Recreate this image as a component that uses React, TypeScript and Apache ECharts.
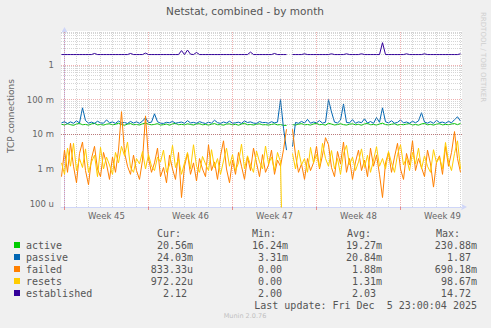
import React, { useEffect, useRef } from 'react';
import * as echarts from 'echarts';

// ---- axis / tick texts ----
const TITLE = 'Netstat, combined - by month';
const Y_AXIS_NAME = 'TCP connections';
const WEEK_LABELS = ['Week 45', 'Week 46', 'Week 47', 'Week 48', 'Week 49'];
const WEEK_LABEL_HOURS = [84, 252, 420, 588, 756]; // hours after Mon 3 Nov 00:00
const WEEK_START_HOURS = [0, 168, 336, 504, 672];
const Y_TICK_EXPONENTS = [-4, -3, -2, -1, 0];
const Y_TICK_TEXTS = ['100 u', '1 m', '10 m', '100 m', '1'];

// ---- time sampling of the series (hours after Mon 3 Nov 00:00) ----
const X_MIN_HOUR = -7;
const X_MAX_HOUR = 795;
const FIRST_HOUR = -6;
const STEP_HOURS = 6;
const Y_MIN = 8.0e-5;
const Y_MAX = 9.56;

// ---- series values (milli-units unless noted; null = no data) ----
const ACTIVE_MILLI = [
  19.5, 18.6, 20.2, 19.0, 18.2, 19.8, 20.5, 18.9, 19.3, 18.4,
  19.9, 20.8, 18.7, 19.2, 18.5, 19.6, 20.1, 18.8, 19.4, 21.0,
  19.1, 18.3, 19.7, 20.4, 18.9, 19.2, 18.6, 20.0, 21.2, 19.5,
  18.8, 19.3, 20.3, 18.5, 19.0, 19.7, 18.4, 19.9, 20.6, 18.9,
  19.4, 18.7, 20.1, 19.2, 18.6, 19.8, 20.2, 18.8, 19.3, 18.5,
  19.6, 20.4, 18.9, 19.1, 18.4, 19.7, 20.0, 18.7, 19.5, 18.3,
  19.8, 20.7, 18.9, 19.2, 18.6, 19.4, 20.1, 18.8, 19.0, 18.5,
  19.3, 20.0, 18.7, 19.1, 18.2, 18.0, null, 19.0, 18.6, 19.5,
  20.3, 18.8, 19.2, 18.5, 19.9, 20.6, 18.9, 19.3, 18.4, 20.8,
  19.7, 18.6, 19.1, 20.2, 19.0, 18.5, 19.6, 20.0, 18.8, 19.4,
  18.3, 19.9, 20.5, 18.9, 19.2, 18.6, 19.8, 21.0, 19.1, 18.7,
  19.5, 20.1, 18.5, 19.3, 18.9, 19.7, 20.3, 18.6, 19.2, 18.4,
  19.9, 20.6, 18.8, 19.4, 18.5, 19.6, 20.2, 18.7, 19.3, 18.9,
  19.8, 20.4, 19.0, 20.6,
];
const PASSIVE_MILLI = [
  21.5, 23.0, 20.5, 22.8, 20.8, 24.5, 21.2, 58.0, 25.0, 21.0,
  22.5, 20.6, 23.8, 21.4, 20.9, 26.0, 21.6, 22.7, 20.7, 24.2,
  21.3, 22.0, 20.5, 23.5, 21.1, 22.9, 20.8, 24.0, 30.0, 21.7,
  22.4, 39.0, 23.0, 21.0, 20.6, 22.2, 21.5, 23.6, 20.9, 21.8,
  22.6, 20.7, 24.8, 21.3, 22.1, 20.8, 23.2, 21.6, 20.5, 22.3,
  21.0, 25.5, 21.8, 20.6, 22.7, 21.2, 23.9, 20.9, 21.5, 22.4,
  20.7, 24.3, 21.9, 22.8, 21.1, 20.6, 23.3, 21.7, 22.0, 20.8,
  23.1, 21.4, 22.5, 100.0, 15.0, 3.5, null, 4.4, 22.0, 20.8,
  23.5, 21.2, 27.0, 20.9, 22.6, 21.5, 24.8, 21.0, 22.3, 100.0,
  44.0, 22.5, 21.2, 25.8, 75.0, 22.0, 21.4, 26.5, 20.8, 22.9,
  21.6, 28.0, 21.1, 23.4, 20.7, 30.5, 22.2, 58.0, 23.0, 21.4,
  24.6, 20.9, 22.1, 26.0, 21.3, 22.7, 20.8, 23.8, 21.5, 24.4,
  42.0, 22.6, 21.0, 23.2, 20.7, 25.4, 21.8, 22.5, 20.9, 23.6,
  21.4, 26.5, 32.0, 24.0,
];
const FAILED_MILLI = [
  0.6, 3.5, 0.8, 5.5, 1.2, 0.4, 2.8, 6.0, 0.9, 0.35,
  2.0, 4.5, 1.0, 0.6, 3.0, 1.4, 0.5, 2.2, 0.8, 3.5,
  45, 3.0, 1.2, 0.7, 2.5, 0.9, 0.5, 1.8, 34, 2.0,
  0.8, 1.5, 4.0, 0.6, 1.1, 0.4, 2.5, 1.0, 0.5, 3.0,
  0.15, 1.2, 2.8, 0.7, 1.5, 0.45, 2.0, 1.0, 0.6, 5.0,
  0.9, 1.6, 0.5, 2.4, 6.5, 1.0, 0.4, 1.8, 0.7, 3.0,
  1.2, 0.5, 2.2, 0.9, 4.0, 1.5, 0.6, 2.6, 0.8, 1.3,
  3.5, 0.7, 1.8, 1.2, 3.6, 14, null, 14, 2.5, 0.8,
  1.4, 0.5, 2.0, 0.9, 1.5, 4.5, 1.0, 2.5, 8.0, 5.0,
  1.1, 0.6, 3.2, 1.4, 6.0, 0.8, 2.0, 0.5, 1.6, 3.5,
  0.9, 1.8, 0.6, 4.0, 1.2, 2.5, 0.7, 0.15, 1.5, 3.0,
  0.8, 2.2, 5.5, 1.0, 0.5, 2.8, 1.3, 6.5, 0.9, 2.0,
  1.1, 0.6, 3.5, 1.4, 0.3, 1.6, 2.4, 0.7, 4.5, 1.2,
  3.0, 12, 2.0, 0.8,
];
const RESETS_MILLI = [
  1.5, 0.7, 4.0, 1.2, 5.5, 0.9, 2.0, 1.1, 3.8, 0.8,
  1.6, 2.5, 0.6, 4.2, 1.0, 2.2, 1.3, 0.7, 3.0, 1.5,
  4.5, 2.4, 6.0, 1.1, 0.8, 2.0, 1.4, 3.2, 1.0, 2.6,
  1.2, 0.9, 2.2, 1.6, 3.5, 0.8, 1.3, 4.8, 1.1, 2.0,
  0.7, 1.5, 3.0, 1.0, 5.0, 1.2, 0.8, 2.3, 1.4, 0.9,
  3.6, 1.1, 2.0, 0.7, 1.7, 4.0, 1.2, 2.6, 0.9, 1.5,
  5.2, 1.0, 2.4, 1.3, 0.8, 3.3, 1.6, 1.0, 4.6, 1.4,
  2.2, 0.9, 3.0, 1.6, 0, null, null, 2.8, 1.0, 3.5,
  1.3, 2.0, 0.8, 4.2, 1.5, 2.6, 1.1, 5.5, 2.0, 1.2,
  3.4, 1.0, 2.0, 0.7, 2.8, 4.8, 1.3, 2.2, 0.9, 1.6,
  3.8, 1.1, 2.5, 0.8, 1.8, 4.4, 1.2, 2.0, 1.0, 3.2,
  1.5, 0.8, 2.6, 5.0, 1.3, 2.1, 0.9, 3.0, 1.4, 4.0,
  1.0, 2.4, 1.2, 0.8, 3.6, 1.5, 2.2, 1.0, 5.8, 1.6,
  0.9, 2.8, 6.5, 1.0,
];
// established connections (plain units)
const ESTABLISHED = [
  2.0, 2.0, 2.0, 2.0, 2.0, 2.0, 2.0, 2.0, 2.0, 2.0,
  2.0, 2.15, 2.0, 2.0, 2.0, 2.0, 2.0, 2.0, 2.0, 2.0,
  2.0, 2.0, 2.0, 2.15, 2.0, 2.0, 2.0, 2.0, 2.2, 2.0,
  2.0, 2.0, 2.0, 2.0, 2.0, 2.0, 2.0, 2.0, 2.0, 2.0,
  2.6, 2.0, 2.7, 2.05, 2.0, 2.3, 2.0, 2.0, 2.0, 2.0,
  2.0, 2.0, 2.0, 2.0, 2.0, 2.0, 2.0, 2.0, 2.0, 2.0,
  2.0, 2.0, 2.0, 2.35, 2.0, 2.0, 2.0, 2.0, 2.0, 2.0,
  2.0, 2.15, 2.0, 2.0, 2.0, 2.0, null, 2.0, 2.0, 2.0,
  2.0, 2.1, 2.0, 2.0, 2.0, 2.0, 2.0, 2.0, 2.0, 2.0,
  2.1, 2.0, 2.0, 2.0, 2.0, 2.1, 2.0, 2.0, 2.0, 2.0,
  2.1, 2.0, 2.0, 2.0, 2.0, 2.0, 2.0, 4.4, 2.0, 2.0,
  2.0, 2.0, 2.0, 2.0, 2.0, 2.1, 2.0, 2.0, 2.0, 2.0,
  2.0, 2.1, 2.0, 2.0, 2.0, 2.0, 2.0, 2.0, 2.0, 2.0,
  2.0, 2.0, 2.0, 2.1,
];

// ---- legend table ----
const LEGEND_NAMES = ['active', 'passive', 'failed', 'resets', 'established'];
const LEGEND_COLORS = ['#00CC00', '#0066B3', '#FF8000', '#FFCC00', '#330099'];
const CUR_VALUES = ['20.56m', '24.03m', '833.33u', '972.22u', '2.12'];
const MIN_VALUES = ['16.24m', '3.31m', '0.00', '0.00', '2.00'];
const AVG_VALUES = ['19.27m', '20.84m', '1.88m', '1.31m', '2.03'];
const MAX_VALUES = ['230.88m', '1.87', '690.18m', '98.67m', '14.72'];
const COLUMN_HEADERS = ['Cur:', 'Min:', 'Avg:', 'Max:'];
const LAST_UPDATE = 'Last update: Fri Dec  5 23:00:04 2025';
const MUNIN_VERSION = 'Munin 2.0.76';
const RRD_CREDIT = 'RRDTOOL / TOBI OETIKER';

const ZERO_FLOOR = 1e-7; // zero drawn below the log axis, clipped

function toSeriesData(values: (number | null)[], scale: number) {
  return values.map((v, i) => [
    FIRST_HOUR + i * STEP_HOURS,
    v === null ? '-' : Math.max(v * scale, ZERO_FLOOR),
  ]);
}

const MONO = '"DejaVu Sans Mono", monospace';
const SANS = '"DejaVu Sans", sans-serif';
const CHAR_W = 6.02;

function buildOption() {
  const minorStyle = { color: 'rgba(150,150,150,0.4)', width: 1, type: [1, 1] as any };
  const majorStyle = { color: 'rgba(222,79,79,0.45)', width: 1, type: [1, 1] as any };

  const gridLines: any[] = [];
  for (let d = -5; d <= 0; d++) {
    for (let m = 2; m <= 9; m++) {
      const v = m * Math.pow(10, d);
      if (v >= Y_MIN && v <= Y_MAX) gridLines.push({ yAxis: v, lineStyle: minorStyle });
    }
  }
  Y_TICK_EXPONENTS.forEach((e) => gridLines.push({ yAxis: Math.pow(10, e), lineStyle: majorStyle }));
  for (let h = 0; h <= X_MAX_HOUR; h += 24) {
    const isWeek = WEEK_START_HOURS.indexOf(h) >= 0;
    gridLines.push({ xAxis: h, lineStyle: isWeek ? majorStyle : minorStyle });
  }

  const seriesDefs = [
    { name: 'active', data: toSeriesData(ACTIVE_MILLI, 1e-3) },
    { name: 'passive', data: toSeriesData(PASSIVE_MILLI, 1e-3) },
    { name: 'failed', data: toSeriesData(FAILED_MILLI, 1e-3) },
    { name: 'resets', data: toSeriesData(RESETS_MILLI, 1e-3) },
    { name: 'established', data: toSeriesData(ESTABLISHED, 1) },
  ];

  const series: any[] = [
    {
      type: 'line',
      name: 'grid',
      data: [],
      silent: true,
      z: 1,
      markLine: {
        silent: true,
        symbol: ['none', 'none'],
        label: { show: false },
        animation: false,
        data: gridLines,
      },
    },
    ...seriesDefs.map((s, i) => ({
      type: 'line',
      name: s.name,
      data: s.data,
      showSymbol: false,
      symbol: 'none',
      clip: true,
      z: 3 + i,
      lineStyle: { color: LEGEND_COLORS[i], width: 1 },
      itemStyle: { color: LEGEND_COLORS[i] },
      emphasis: { disabled: true },
    })),
  ];

  const graphic: any[] = [];
  graphic.push({
    type: 'text', x: 245, y: 11,
    style: { text: TITLE, fill: '#555', fontSize: 10.5, fontFamily: SANS, align: 'center', verticalAlign: 'middle' },
  });
  graphic.push({
    type: 'text', x: 11, y: 116, rotation: Math.PI / 2,
    style: { text: Y_AXIS_NAME, fill: '#666', fontSize: 9, fontFamily: SANS, align: 'center', verticalAlign: 'middle' },
  });
  graphic.push({
    type: 'text', x: 483, y: 12, rotation: -Math.PI / 2,
    style: { text: RRD_CREDIT, fill: '#cfcfcf', fontSize: 7, fontFamily: SANS, align: 'left', verticalAlign: 'middle' },
  });

  const headerLeft = [157, 252, 347, 436];
  COLUMN_HEADERS.forEach((h, i) => {
    graphic.push({
      type: 'text', x: headerLeft[i], y: 233,
      style: { text: h, fill: '#555', fontSize: 10, fontFamily: MONO, align: 'left', verticalAlign: 'middle' },
    });
  });
  const colRight = [193, 288, 382, 477];
  const columns = [CUR_VALUES, MIN_VALUES, AVG_VALUES, MAX_VALUES];
  LEGEND_NAMES.forEach((name, r) => {
    const y = 245 + r * 12;
    graphic.push({ type: 'rect', shape: { x: 14, y: y - 3, width: 6, height: 6 }, style: { fill: LEGEND_COLORS[r] } });
    graphic.push({
      type: 'text', x: 26, y,
      style: { text: name, fill: '#555', fontSize: 10, fontFamily: MONO, align: 'left', verticalAlign: 'middle' },
    });
    columns.forEach((col, c) => {
      const txt = col[r];
      const hasUnit = /[a-zA-Z]$/.test(txt);
      graphic.push({
        type: 'text', x: colRight[c] - (hasUnit ? 0 : CHAR_W), y,
        style: { text: txt, fill: '#555', fontSize: 10, fontFamily: MONO, align: 'right', verticalAlign: 'middle' },
      });
    });
  });
  graphic.push({
    type: 'text', x: 477, y: 305,
    style: { text: LAST_UPDATE, fill: '#555', fontSize: 10, fontFamily: MONO, align: 'right', verticalAlign: 'middle' },
  });
  graphic.push({
    type: 'text', x: 245, y: 316,
    style: { text: MUNIN_VERSION, fill: '#c0c0c0', fontSize: 6.5, fontFamily: SANS, align: 'center', verticalAlign: 'middle' },
  });

  return {
    animation: false,
    backgroundColor: '#F0F0F0',
    grid: {
      left: 61, top: 31, width: 401, height: 176,
      show: true, backgroundColor: '#FFFFFF', borderWidth: 0,
      containLabel: false,
    },
    xAxis: {
      type: 'value',
      min: X_MIN_HOUR,
      max: X_MAX_HOUR,
      splitLine: { show: false },
      axisLine: {
        show: true, onZero: false,
        lineStyle: { color: '#CFD6F8', width: 1 },
        symbol: ['none', 'arrow'], symbolSize: [5, 6], symbolOffset: [0, 5],
      },
      axisTick: {
        show: true, customValues: WEEK_START_HOURS, length: 3,
        lineStyle: { color: 'rgba(222,79,79,0.6)' },
      },
      axisLabel: {
        customValues: WEEK_LABEL_HOURS,
        formatter: (v: number) => {
          const idx = WEEK_LABEL_HOURS.indexOf(Math.round(v));
          return idx >= 0 ? WEEK_LABELS[idx] : '';
        },
        color: '#666', fontSize: 8.5, fontFamily: SANS, margin: 4,
        showMinLabel: true, showMaxLabel: true,
      },
    },
    yAxis: {
      type: 'log',
      logBase: 10,
      min: Y_MIN,
      max: Y_MAX,
      splitLine: { show: false },
      axisTick: { show: false },
      axisLine: {
        show: true,
        lineStyle: { color: '#CFD6F8', width: 1 },
        symbol: ['none', 'arrow'], symbolSize: [5, 6], symbolOffset: [0, 4],
      },
      axisLabel: {
        formatter: (v: number) => {
          const e = Math.log10(v);
          const r = Math.round(e);
          if (Math.abs(e - r) > 1e-6) return '';
          const idx = Y_TICK_EXPONENTS.indexOf(r);
          return idx >= 0 ? Y_TICK_TEXTS[idx] : '';
        },
        color: '#666', fontSize: 8.5, fontFamily: SANS, margin: 7,
      },
    },
    series,
    graphic,
  };
}

export default function App() {
  const ref = useRef<HTMLDivElement>(null);
  useEffect(() => {
    if (!ref.current) return;
    const chart = echarts.init(ref.current, null, { renderer: 'svg' });
    chart.setOption(buildOption() as any);
    return () => chart.dispose();
  }, []);
  return (
    <div
      ref={ref}
      style={{ position: 'absolute', left: 0, top: 0, width: 491, height: 328 }}
    />
  );
}
